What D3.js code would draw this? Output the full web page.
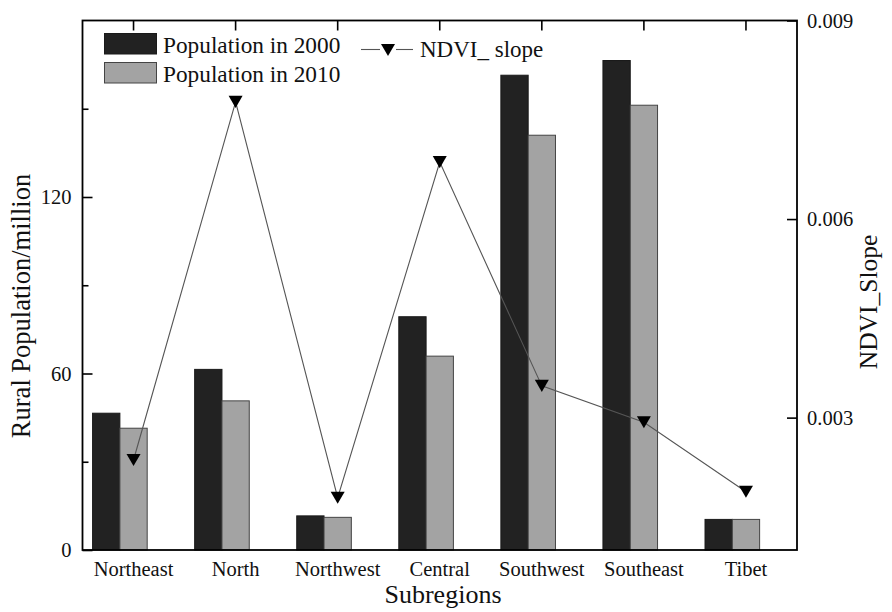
<!DOCTYPE html>
<html>
<head>
<meta charset="utf-8">
<script src="https://cdn.jsdelivr.net/npm/d3@7/dist/d3.min.js"></script>
<style>
  html, body { margin: 0; padding: 0; background: #ffffff; }
  svg { display: block; }
</style>
</head>
<body>
<svg id="chart" width="892" height="612"></svg>
<script>
const categories = ["Northeast", "North", "Northwest", "Central", "Southwest", "Southeast", "Tibet"];
const pop2000 = [46.5, 61.4, 11.6, 79.3, 161.4, 166.4, 10.4];
const pop2010 = [41.4, 50.7, 11.1, 65.9, 141.0, 151.2, 10.4];
const ndviSlope = [0.00236, 0.00777, 0.00179, 0.00686, 0.00348, 0.00293, 0.00188];
const leftTicks = [0, 60, 120];
const leftMinorTicks = [30, 90, 150];
const rightTicks = [0.003, 0.006, 0.009];
const seriesNames = ["Population in 2000", "Population in 2010", "NDVI_ slope"];

const FONT = "Liberation Serif";
const svg = d3.select("#chart");
const m = { left: 82.5, right: 797, top: 20.5, bottom: 550 };

const x = d3.scaleBand().domain(categories).range([m.left, m.right]).paddingInner(0).paddingOuter(0);
const yL = d3.scaleLinear().domain([0, 180]).range([m.bottom, m.top]);
const yR = d3.scaleLinear().domain([0.001, 0.009]).range([m.bottom, m.top]);
const barW = 27.3;
const cx = d => x(d) + x.bandwidth() / 2;

const dark = "#222222", gray = "#a3a3a3";

// bars
const g = svg.append("g");
g.selectAll("rect.b2000").data(categories).join("rect")
  .attr("x", (d) => cx(d) - barW * 1.5)
  .attr("y", (d, i) => yL(pop2000[i]))
  .attr("width", barW)
  .attr("height", (d, i) => yL(0) - yL(pop2000[i]))
  .attr("fill", dark).attr("stroke", "#1a1a1a").attr("stroke-width", 1);
g.selectAll("rect.b2010").data(categories).join("rect")
  .attr("x", (d) => cx(d) - barW * 0.5)
  .attr("y", (d, i) => yL(pop2010[i]))
  .attr("width", barW)
  .attr("height", (d, i) => yL(0) - yL(pop2010[i]))
  .attr("fill", gray).attr("stroke", "#444").attr("stroke-width", 1);

// line
const line = d3.line().x((d, i) => cx(categories[i])).y(d => yR(d));
svg.append("path").datum(ndviSlope).attr("d", line)
  .attr("fill", "none").attr("stroke", "#555").attr("stroke-width", 1.1);

const tri = d3.symbol(d3.symbolTriangle, 85);
svg.selectAll("path.mk").data(ndviSlope).join("path")
  .attr("d", tri)
  .attr("transform", (d, i) => `translate(${cx(categories[i])},${yR(d) - 2}) rotate(180)`)
  .attr("fill", "#000");

// frame
svg.append("rect").attr("x", m.left).attr("y", m.top)
  .attr("width", m.right - m.left).attr("height", m.bottom - m.top)
  .attr("fill", "none").attr("stroke", "#000").attr("stroke-width", 1.8);

function styleText(sel, size) {
  sel.style("font-family", FONT).attr("font-family", FONT).attr("font-size", size).attr("fill", "#111");
}

// left axis ticks (inward)
const leftAxis = d3.axisLeft(yL).tickValues(leftTicks).tickSize(-10).tickPadding(11).tickFormat(d3.format("d"));
const la = svg.append("g").attr("transform", `translate(${m.left},0)`).call(leftAxis);
la.select(".domain").remove();
la.selectAll("line").attr("stroke", "#000").attr("stroke-width", 1.6);
styleText(la.selectAll("text"), 20.5);
const laMinor = d3.axisLeft(yL).tickValues(leftMinorTicks).tickSize(-6).tickFormat("");
const lm = svg.append("g").attr("transform", `translate(${m.left},0)`).call(laMinor);
lm.select(".domain").remove();
lm.selectAll("line").attr("stroke", "#000").attr("stroke-width", 1.6);

// right axis
const rightAxis = d3.axisRight(yR).tickValues(rightTicks).tickSize(-10).tickPadding(10).tickFormat(d3.format(".3f"));
const ra = svg.append("g").attr("transform", `translate(${m.right},0)`).call(rightAxis);
ra.select(".domain").remove();
ra.selectAll("line").attr("stroke", "#000").attr("stroke-width", 1.6);
styleText(ra.selectAll("text"), 20.5);

// top ticks (inward)
const topAxis = d3.axisTop(x).tickSize(-10).tickFormat("");
const ta = svg.append("g").attr("transform", `translate(0,${m.top})`).call(topAxis);
ta.select(".domain").remove();
ta.selectAll("line").attr("stroke", "#000").attr("stroke-width", 1.6);

// bottom axis labels
const bottomAxis = d3.axisBottom(x).tickSize(0).tickPadding(11);
const ba = svg.append("g").attr("transform", `translate(0,${m.bottom})`).call(bottomAxis);
ba.select(".domain").remove();
styleText(ba.selectAll("text"), 20.5);

// axis titles
styleText(svg.append("text").attr("x", 443).attr("y", 603).attr("text-anchor", "middle")
  .text("Subregions"), 26);
styleText(svg.append("text").attr("transform", "translate(30,306) rotate(-90)").attr("text-anchor", "middle")
  .text("Rural Population/million"), 26.5);
styleText(svg.append("text").attr("transform", "translate(877,302) rotate(-90)").attr("text-anchor", "middle")
  .text("NDVI_Slope"), 25.5);

// legend
const lg = svg.append("g");
lg.append("rect").attr("x", 104.5).attr("y", 33.5).attr("width", 52).attr("height", 20.5)
  .attr("fill", dark).attr("stroke", "#1a1a1a");
styleText(lg.append("text").attr("x", 163).attr("y", 52.5).text(seriesNames[0]), 23.3);
lg.append("rect").attr("x", 104.5).attr("y", 62.5).attr("width", 52).attr("height", 20.5)
  .attr("fill", gray).attr("stroke", "#444");
styleText(lg.append("text").attr("x", 163).attr("y", 81.5).text(seriesNames[1]), 23.3);
lg.append("line").attr("x1", 361).attr("x2", 380).attr("y1", 49.5).attr("y2", 49.5)
  .attr("stroke", "#555").attr("stroke-width", 1.1);
lg.append("line").attr("x1", 396).attr("x2", 413).attr("y1", 49.5).attr("y2", 49.5)
  .attr("stroke", "#555").attr("stroke-width", 1.1);
lg.append("path").attr("d", tri).attr("transform", "translate(388,48) rotate(180)").attr("fill", "#000");
styleText(lg.append("text").attr("x", 420).attr("y", 56.5).text(seriesNames[2]), 23);
</script>
</body>
</html>
